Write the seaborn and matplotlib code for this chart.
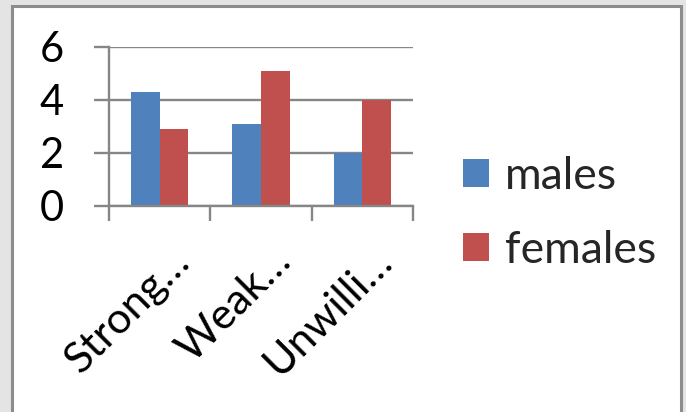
import matplotlib
matplotlib.use("Agg")
import matplotlib.pyplot as plt
import matplotlib.transforms as mtrans
from matplotlib.patches import Rectangle
import seaborn as sns
import pandas as pd

# Chart data
categories = ["Strong…", "Weak…", "Unwilli…"]
series_names = ["males", "females"]
males = [4.3, 3.1, 2.0]
females = [2.9, 5.1, 4.0]
y_ticks = [0, 2, 4, 6]

colors = {"males": "#4F81BD", "females": "#C0504D"}
line_gray = "#868686"

sns.set_theme(style="white")
plt.rcParams["font.family"] = ["Lato", "DejaVu Sans"]

df = pd.DataFrame({
    "category": categories * 2,
    "series": [series_names[0]] * len(males) + [series_names[1]] * len(females),
    "value": males + females,
})

W, H, DPI = 686, 412, 100
fig = plt.figure(figsize=(W / DPI, H / DPI), dpi=DPI, facecolor="#e4e4e4")

# White chart panel with grey frame, kept behind the axes
panel = Rectangle((11.5 / W, -0.05), (681 - 11.5) / W, 1.05 - 5.5 / H,
                  transform=fig.transFigure, facecolor="white",
                  edgecolor="#8c8c8c", linewidth=2.2, zorder=-10)
fig.patches.append(panel)

ax = fig.add_axes([109 / W, 1 - 205.7 / H, (413 - 109) / W, (205.7 - 46.7) / H])
ax.set_facecolor("none")

sns.barplot(data=df, x="category", y="value", hue="series",
            order=categories, hue_order=series_names, palette=colors,
            width=0.565, saturation=1, edgecolor="none", errorbar=None, ax=ax)

ax.set_xlim(-0.5, len(categories) - 0.5)
ax.set_ylim(y_ticks[0], y_ticks[-1])
ax.set_yticks(y_ticks)
ax.set_xlabel("")
ax.set_ylabel("")

# Grid and spines
ax.set_axisbelow(True)
ax.yaxis.grid(True, color=line_gray, linewidth=1.7)
for side in ("top", "right"):
    ax.spines[side].set_visible(False)
for side in ("left", "bottom"):
    ax.spines[side].set_color(line_gray)
    ax.spines[side].set_linewidth(1.7)

ax.tick_params(axis="y", which="major", left=True, length=11, width=1.7,
               color=line_gray, pad=21.6, labelsize=30, labelcolor="black")

# Category boundary ticks
ax.set_xticks([i - 0.5 for i in range(len(categories) + 1)], minor=True)
ax.tick_params(axis="x", which="minor", bottom=True, length=11, width=1.7,
               color=line_gray)
ax.set_xticks(range(len(categories)))
ax.set_xticklabels(categories, rotation=45, ha="right", va="baseline",
                   rotation_mode="anchor")
ax.tick_params(axis="x", which="major", bottom=True, length=0, pad=0,
               labelsize=31, labelcolor="black")
shift = mtrans.ScaledTranslation(32 / DPI, -58 / DPI, fig.dpi_scale_trans)
for lbl in ax.get_xticklabels():
    lbl.set_transform(lbl.get_transform() + shift)

# Legend
handles, labels = ax.get_legend_handles_labels()
ax.legend(handles, labels, loc="center left",
          bbox_to_anchor=(463 / W, 1 - 213.5 / H), bbox_transform=fig.transFigure,
          frameon=False, fontsize=32, handlelength=0.585, handleheight=0.585,
          handletextpad=0.36, labelspacing=0.74, borderpad=0, borderaxespad=0)

fig.savefig("out.png", dpi=DPI, facecolor=fig.get_facecolor())
